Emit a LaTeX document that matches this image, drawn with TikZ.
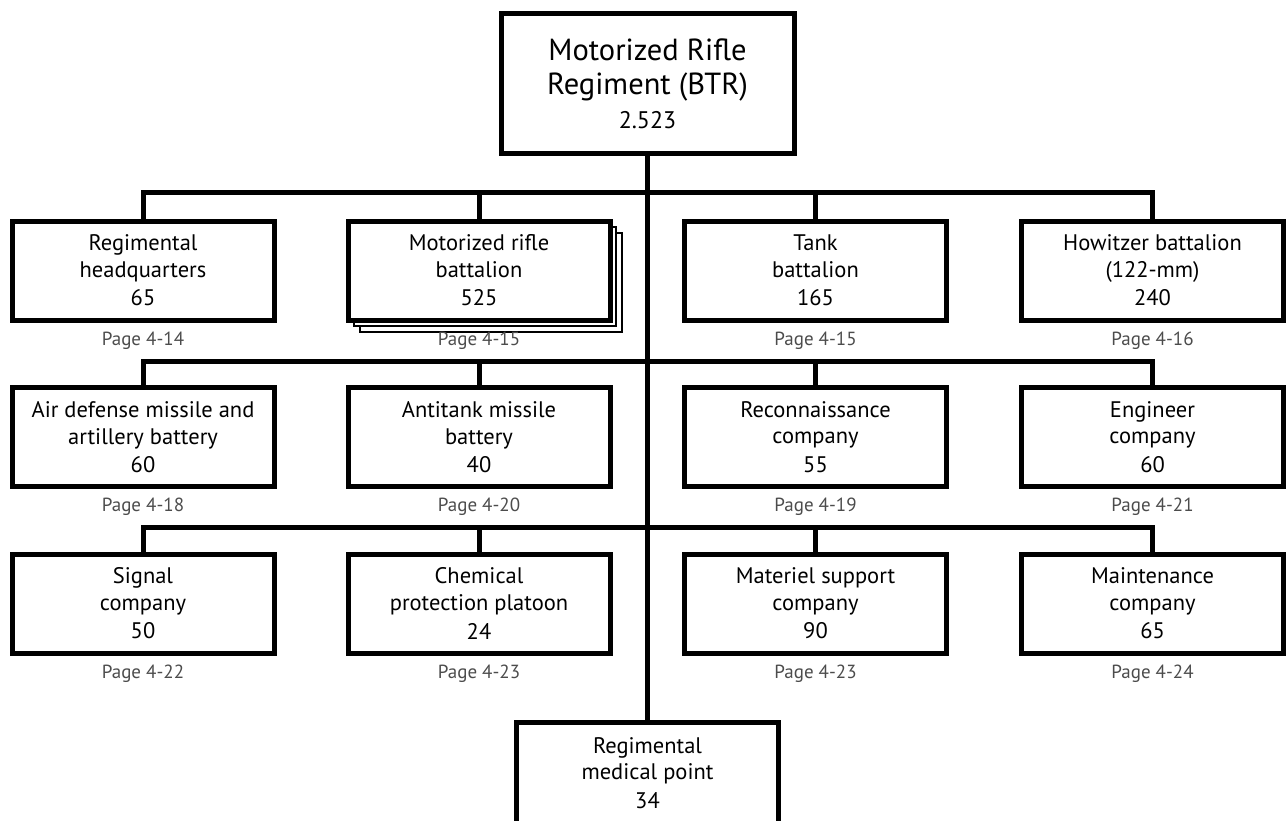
\documentclass[tikz,border=0pt]{standalone}
\usepackage{fontspec}
\setmainfont{PT Sans}
\usetikzlibrary{shadows}

\tikzset{
  unitbox/.style={draw, line width=5pt, fill=white, minimum width=262pt, minimum height=99pt,
    inner sep=0pt, align=center, font=\fontsize{22.5}{26.7}\selectfont},
  topbox/.style={unitbox, minimum width=293pt, minimum height=140pt, font=\fontsize{30.5}{34}\selectfont},
  stackbox/.style={unitbox, double copy shadow={shadow xshift=6pt, shadow yshift=-6pt, line width=2pt}},
  pagelabel/.style={font=\fontsize{19}{22}\selectfont, text=black!70, inner sep=0pt, anchor=base},
  link/.style={line width=5pt, line join=miter},
}

\begin{document}
\begin{tikzpicture}[x=1pt, y=-1pt]
    \useasboundingbox (0,0) rectangle (1287,820);
    \clip (0,0) rectangle (1287,820);

    \node[topbox] (regt) at (647.5,83.5) {Motorized Rifle\\Regiment (BTR)\\[0pt]{\fontsize{24}{34}\selectfont 2.523}};

    % first row
    \node[unitbox] (hq) at (143,270.5) {Regimental\\headquarters\\[1.7pt]65};
    \node[stackbox] (mrbn) at (479,270.5) {Motorized rifle\\battalion\\[1.7pt]525};
    \node[unitbox] (tkbn) at (815.5,270.5) {Tank\\battalion\\[1.7pt]165};
    \node[unitbox] (howbn) at (1152.5,270.5) {Howitzer battalion\\(122-mm)\\[1.7pt]240};
    \node[pagelabel] (phq) at (143,345) {Page 4-14};
    \node[pagelabel] (pmrbn) at (479,345) {Page 4-15};
    \node[pagelabel] (ptkbn) at (815.5,345) {Page 4-15};
    \node[pagelabel] (phowbn) at (1152.5,345) {Page 4-16};

    % second row
    \node[unitbox] (adbty) at (143,437) {Air defense missile and\\artillery battery\\[1.7pt]60};
    \node[unitbox] (atbty) at (479,437) {Antitank missile\\battery\\[1.7pt]40};
    \node[unitbox] (reccoy) at (815.5,437) {Reconnaissance\\company\\[1.7pt]55};
    \node[unitbox] (engcoy) at (1152.5,437) {Engineer\\company\\[1.7pt]60};
    \node[pagelabel] (padbty) at (143,511.5) {Page 4-18};
    \node[pagelabel] (patbty) at (479,511.5) {Page 4-20};
    \node[pagelabel] (preccoy) at (815.5,511.5) {Page 4-19};
    \node[pagelabel] (pengcoy) at (1152.5,511.5) {Page 4-21};

    % third row
    \node[unitbox] (sigcoy) at (143,603.5) {Signal\\company\\[1.7pt]50};
    \node[unitbox] (chempl) at (479,603.5) {Chemical\\protection platoon\\[1.7pt]24};
    \node[unitbox] (matcoy) at (815.5,603.5) {Materiel support\\company\\[1.7pt]90};
    \node[unitbox] (maintcoy) at (1152.5,603.5) {Maintenance\\company\\[1.7pt]65};
    \node[pagelabel] (psigcoy) at (143,678) {Page 4-22};
    \node[pagelabel] (pchempl) at (479,678) {Page 4-23};
    \node[pagelabel] (pmatcoy) at (815.5,678) {Page 4-23};
    \node[pagelabel] (pmaintcoy) at (1152.5,678) {Page 4-24};

    \node[unitbox, minimum height=102pt] (medpt) at (647.5,773) {Regimental\\medical point\\[1.7pt]34};

    % connectors
    \coordinate (bar1) at (647.5,192);
    \coordinate (bar2) at (647.5,361);
    \coordinate (bar3) at (647.5,527);
    \draw[link] (regt.south) -- (medpt.north);
    \draw[link] (hq.north) |- (bar1) -| (howbn.north);
    \draw[link] (mrbn.north) -- (mrbn.north |- bar1);
    \draw[link] (tkbn.north) -- (tkbn.north |- bar1);
    \draw[link] (adbty.north) |- (bar2) -| (engcoy.north);
    \draw[link] (atbty.north) -- (atbty.north |- bar2);
    \draw[link] (reccoy.north) -- (reccoy.north |- bar2);
    \draw[link] (sigcoy.north) |- (bar3) -| (maintcoy.north);
    \draw[link] (chempl.north) -- (chempl.north |- bar3);
    \draw[link] (matcoy.north) -- (matcoy.north |- bar3);
\end{tikzpicture}
\end{document}
